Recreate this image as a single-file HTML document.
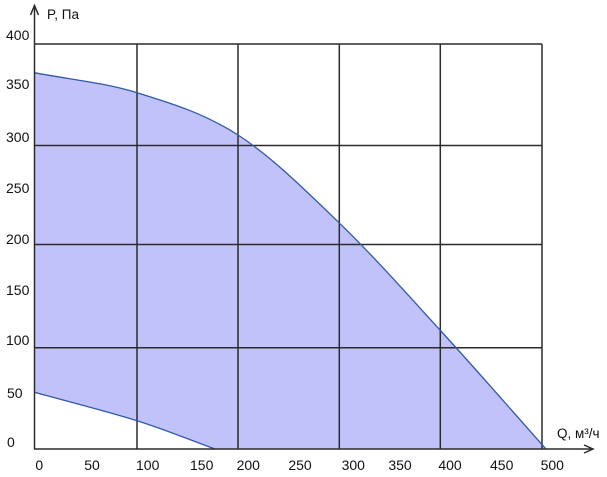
<!DOCTYPE html>
<html>
<head>
<meta charset="utf-8">
<style>
  html,body{margin:0;padding:0;background:#fff;}
  svg{display:block;}
  text{font-family:"Liberation Sans",Arial,sans-serif;fill:#111;}
</style>
</head>
<body>
<svg width="607" height="477" viewBox="0 0 607 477" xmlns="http://www.w3.org/2000/svg">
  <!-- filled region -->
  <path d="M34.5,72.7 C68.7,79.4 103.1,82.3 137,92.7 C170.9,103.1 204.3,113.3 238,135 C271.7,156.7 305.3,190.2 339,222.7 C372.7,255.2 405.5,292.3 440,330 C474.5,367.7 510.7,409.3 546,449 L215,449 C189,439.6 167.1,430.15 137,420.7 C106.9,411.25 68.7,401.8 34.5,392.3 Z" fill="#c2c2fa" stroke="none"/>

  <!-- grid -->
  <g stroke="#2b2b2b" stroke-width="1.5" fill="none">
    <line x1="34.5" y1="44" x2="542" y2="44"/>
    <line x1="34.5" y1="145.5" x2="542" y2="145.5"/>
    <line x1="34.5" y1="244.5" x2="542" y2="244.5"/>
    <line x1="34.5" y1="347.7" x2="542" y2="347.7"/>
    <line x1="137" y1="44" x2="137" y2="449"/>
    <line x1="238" y1="44" x2="238" y2="449"/>
    <line x1="339.3" y1="44" x2="339.3" y2="449"/>
    <line x1="440.3" y1="44" x2="440.3" y2="449"/>
    <line x1="542" y1="44" x2="542" y2="449"/>
  </g>

  <!-- curves -->
  <path d="M34.5,72.7 C68.7,79.4 103.1,82.3 137,92.7 C170.9,103.1 204.3,113.3 238,135 C271.7,156.7 305.3,190.2 339,222.7 C372.7,255.2 405.5,292.3 440,330 C474.5,367.7 510.7,409.3 546,449" fill="none" stroke="#2f5aa8" stroke-width="1.3"/>
  <path d="M34.5,392.3 C68.7,401.8 106.9,411.25 137,420.7 C167.1,430.15 189,439.6 215,449" fill="none" stroke="#2f5aa8" stroke-width="1.3"/>

  <!-- axes -->
  <g stroke="#2b2b2b" stroke-width="1.5" fill="none">
    <line x1="34.5" y1="5" x2="34.5" y2="449.5"/>
    <line x1="34" y1="449" x2="593" y2="449"/>
    <polyline points="30.5,15 34.5,5.5 38.5,15"/>
    <polyline points="584,445 593,449 584,453"/>
  </g>

  <!-- axis titles -->
  <text x="47" y="19" font-size="13.5">P, Па</text>
  <text x="557" y="438" font-size="13.5">Q, м³/ч</text>

  <!-- y tick labels -->
  <g font-size="14" text-anchor="start">
    <text x="6" y="40">400</text>
    <text x="6" y="89">350</text>
    <text x="6" y="142">300</text>
    <text x="6" y="193">250</text>
    <text x="6" y="244">200</text>
    <text x="6" y="295">150</text>
    <text x="6" y="345">100</text>
    <text x="7" y="398">50</text>
    <text x="7" y="447">0</text>
  </g>

  <!-- x tick labels -->
  <g font-size="14" text-anchor="middle">
    <text x="39.3" y="470">0</text>
    <text x="92" y="470">50</text>
    <text x="147.7" y="470">100</text>
    <text x="201.7" y="470">150</text>
    <text x="248.3" y="470">200</text>
    <text x="300" y="470">250</text>
    <text x="353.3" y="470">300</text>
    <text x="400" y="470">350</text>
    <text x="450" y="470">400</text>
    <text x="501.7" y="470">450</text>
    <text x="552.3" y="470">500</text>
  </g>
</svg>
</body>
</html>
